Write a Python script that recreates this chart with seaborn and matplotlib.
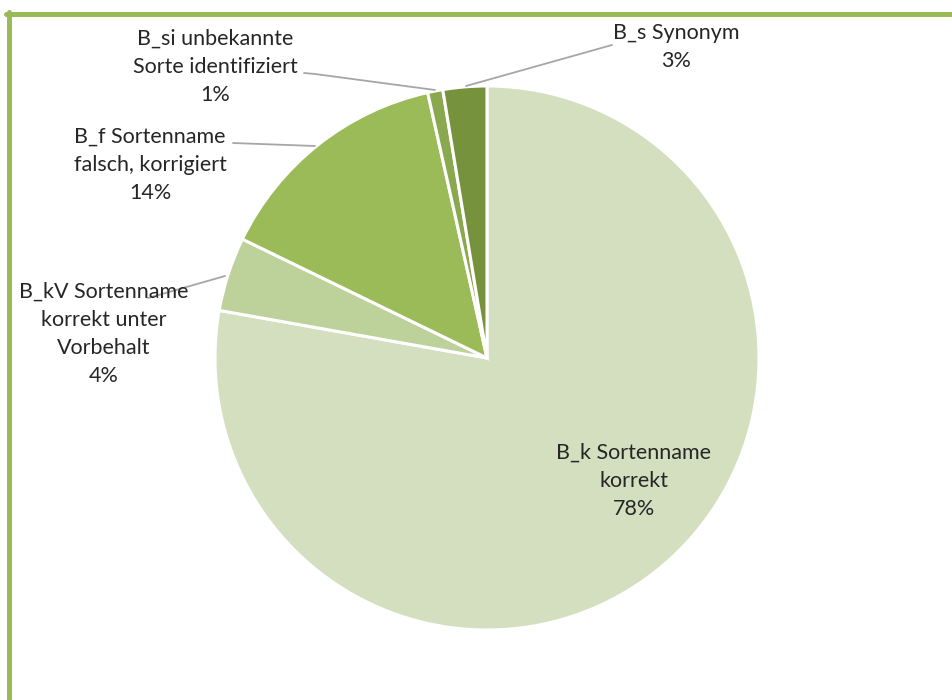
import numpy as np
import matplotlib
matplotlib.use('Agg')
import matplotlib.pyplot as plt
from matplotlib.lines import Line2D
import seaborn as sns

# Daten
kategorien = ['B_k Sortenname\nkorrekt',
              'B_kV Sortenname\nkorrekt unter\nVorbehalt',
              'B_f Sortenname\nfalsch, korrigiert',
              'B_si unbekannte\nSorte identifiziert',
              'B_s Synonym']
anteile = [77.8, 4.4, 14.3, 0.9, 2.6]
farben = ['#d3dfbf', '#bdd29b', '#9bbb59', '#8aa94e', '#76923c']

# Position der Beschriftungen (in Radius-Einheiten)
label_pos = [(0.54, -0.452), (-1.408, 0.088), (-1.239, 0.71), (-1.0, 1.07), (0.695, 1.143)]

sns.set_theme(style='white')
plt.rcParams['font.family'] = ['Lato', 'DejaVu Sans']

fig = plt.figure(figsize=(9.52, 7.0), dpi=100)
cx, cy, r = 487, 358, 272
ax = fig.add_axes([(cx - r) / 952, (700 - cy - r) / 700, 2 * r / 952, 2 * r / 700])

wedges, _ = ax.pie(anteile, colors=farben, startangle=90, counterclock=False,
                   radius=1.0, wedgeprops=dict(edgecolor='white', linewidth=2.2))
ax.set_xlim(-1, 1)
ax.set_ylim(-1, 1)
ax.set_aspect('equal')
ax.axis('off')

for name, wert, (lx, ly) in zip(kategorien, anteile, label_pos):
    ax.text(lx, ly, f'{name}\n{round(wert):d}%', ha='center', va='center',
            fontsize=15.5, color='#262626', linespacing=1.5, clip_on=False)

# Führungslinien
def px(x, y):
    return ((x - cx) / r, (cy - y) / r)

leader = [
    [px(304, 73), px(315, 74), px(435, 90)],
    [px(233, 143), px(315, 146)],
    [px(148, 298), px(225, 276)],
    [px(612, 45), px(466, 86)],
]
for pts in leader:
    xs, ys = zip(*pts)
    ax.plot(xs, ys, color='#a6a6a6', lw=1.3, clip_on=False)

# Rahmen (oben und links)
fig.add_artist(Line2D([6 / 952, 1.0], [1 - 14 / 700, 1 - 14 / 700], color='#9bbb59', lw=3.6,
                      transform=fig.transFigure))
fig.add_artist(Line2D([8.5 / 952, 8.5 / 952], [0, 1 - 12 / 700], color='#9bbb59', lw=3.6,
                      transform=fig.transFigure))

fig.savefig('out.png', dpi=100, facecolor='white')
